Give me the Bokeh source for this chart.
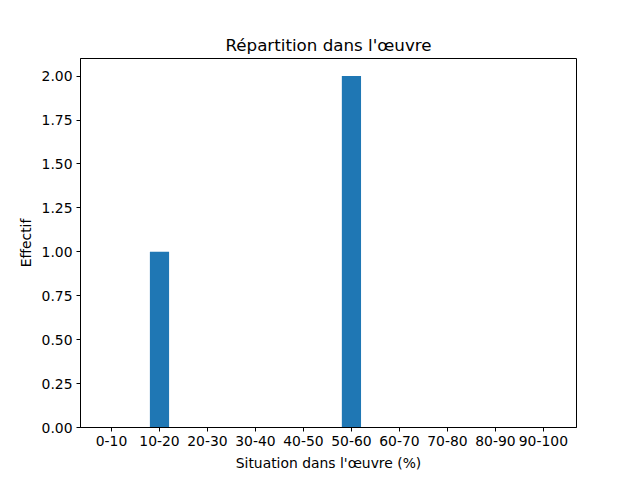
from bokeh.plotting import figure
from bokeh.models import FixedTicker, PrintfTickFormatter, Range1d, ColumnDataSource
from bokeh.embed import file_html
from bokeh.resources import INLINE

categories = ["0-10", "10-20", "20-30", "30-40", "40-50", "50-60", "60-70", "70-80", "80-90", "90-100"]
counts = [0, 1, 0, 0, 0, 2, 0, 0, 0, 0]
y_ticks = [0.0, 0.25, 0.5, 0.75, 1.0, 1.25, 1.5, 1.75, 2.0]

positions = list(range(len(categories)))
src = ColumnDataSource(dict(x=positions, top=counts))

p = figure(
    output_backend="svg", toolbar_location=None,
    frame_width=496, frame_height=369,
    min_border_left=80, min_border_right=56, min_border_top=58, min_border_bottom=45,
    x_range=Range1d(-0.646, 9.69), y_range=Range1d(0, 2.1),
    title="Répartition dans l'œuvre",
)
p.vbar(x="x", top="top", width=0.4, bottom=0, source=src, color="#1f77b4", line_color=None)

p.title.align = "center"
p.title.text_font = "DejaVu Sans"
p.title.text_font_size = "16.7px"
p.title.text_font_style = "normal"
p.title.text_color = "black"
p.title.standoff = 8

p.xgrid.visible = False
p.ygrid.visible = False
p.outline_line_color = "black"
p.outline_line_width = 1
p.background_fill_color = "white"
p.border_fill_color = "white"

p.xaxis.ticker = FixedTicker(ticks=positions)
p.xaxis.major_label_overrides = {i: c for i, c in enumerate(categories)}
p.yaxis.ticker = FixedTicker(ticks=y_ticks)
p.yaxis.formatter = PrintfTickFormatter(format="%.2f")

for ax in (p.xaxis[0], p.yaxis[0]):
    ax.axis_line_color = "black"
    ax.major_tick_in = 0
    ax.major_tick_out = 4
    ax.minor_tick_line_color = None
    ax.major_label_text_font = "DejaVu Sans"
    ax.major_label_text_font_size = "13.9px"
    ax.major_label_text_color = "black"
    ax.axis_label_text_font = "DejaVu Sans"
    ax.axis_label_text_font_size = "13.9px"
    ax.axis_label_text_font_style = "normal"
    ax.axis_label_text_color = "black"
    ax.major_label_standoff = 4

p.xaxis.axis_label = "Situation dans l'œuvre (%)"
p.yaxis.axis_label = "Effectif"
p.xaxis.axis_label_standoff = 6
p.yaxis.axis_label_standoff = 5

open("out.html", "w").write(file_html(p, INLINE))
